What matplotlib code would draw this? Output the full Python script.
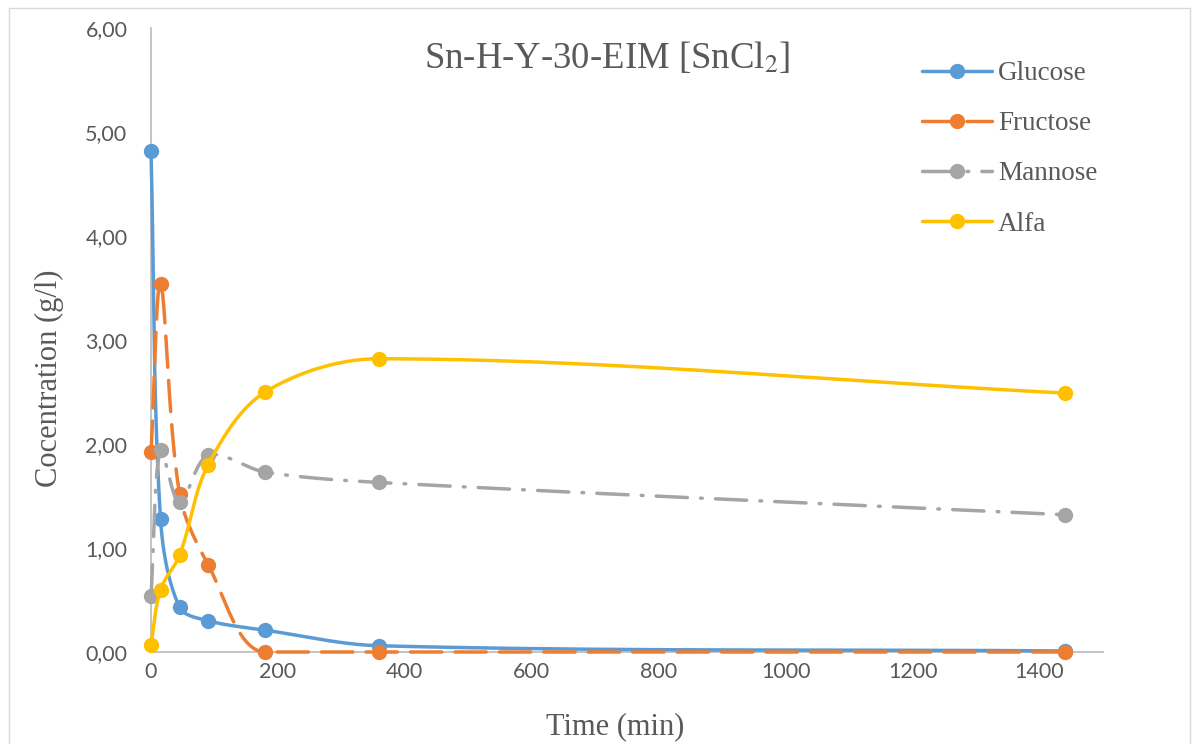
import matplotlib
matplotlib.use("Agg")
import matplotlib.pyplot as plt
import numpy as np
from matplotlib.lines import Line2D
from matplotlib.patches import Rectangle

# --- data ---
time_min = [0, 15, 45, 90, 180, 360, 1440]
glucose = [4.82, 1.28, 0.43, 0.30, 0.21, 0.06, 0.01]
fructose = [1.92, 3.54, 1.52, 0.84, 0.00, 0.00, 0.00]
mannose = [0.54, 1.94, 1.44, 1.89, 1.73, 1.63, 1.32]
alfa = [0.07, 0.60, 0.93, 1.80, 2.50, 2.82, 2.49]

series_names = ["Glucose", "Fructose", "Mannose", "Alfa"]
series_values = [glucose, fructose, mannose, alfa]
x_ticks = [0, 200, 400, 600, 800, 1000, 1200, 1400]
y_ticks = [0, 1, 2, 3, 4, 5, 6]

COLORS = ["#5B9BD5", "#ED7D31", "#A5A5A5", "#FFC000"]
DASHES = [None, (9, 3.8), (9, 3.8, 0.5, 3.8), None]
TEXT_GRAY = "#595959"
SERIF = ["Liberation Serif", "DejaVu Serif"]
SANS = ["Lato", "DejaVu Sans"]

W, H = 1194, 744


def smooth_curve(ax, x, y, n=60):
    """Excel-like smoothed line: cubic Bezier through the points, built in display space."""
    pts = ax.transData.transform(np.column_stack([x, y]))
    p = np.vstack([pts[0], pts, pts[-1]])
    # tangent at every real point (flat next to a flat stretch)
    tang = []
    for i in range(1, len(p) - 1):
        d = p[i + 1] - p[i - 1]
        inner = 1 < i < len(p) - 2
        if inner and ((p[i + 1][1] - p[i][1]) == 0 or (p[i][1] - p[i - 1][1]) == 0):
            d = np.array([d[0], 0.0])
        tang.append(d)
    out = []
    t = np.linspace(0, 1, n)[:, None]
    for k in range(len(pts) - 1):
        i = k + 1
        p0, p1, p2, p3 = p[i - 1], p[i], p[i + 1], p[i + 2]
        l01 = np.hypot(*(p1 - p0))
        l12 = np.hypot(*(p2 - p1))
        l23 = np.hypot(*(p3 - p2))
        c1 = p1 + tang[k] * l12 / (l01 + l12) / 3
        c2 = p2 - tang[k + 1] * l12 / (l12 + l23) / 3
        seg = ((1 - t) ** 3) * p1 + 3 * ((1 - t) ** 2) * t * c1 + 3 * (1 - t) * t ** 2 * c2 + t ** 3 * p2
        out.append(seg if k == 0 else seg[1:])
    curve = ax.transData.inverted().transform(np.vstack(out))
    return curve[:, 0], curve[:, 1]


fig = plt.figure(figsize=(W / 100, H / 100), dpi=100)
fig.patch.set_facecolor("white")
fig.patches.append(Rectangle((9 / W, -0.01), (1190 - 9) / W, 1 - 8 / H + 0.01,
                             transform=fig.transFigure, fill=False,
                             edgecolor="#D9D9D9", linewidth=1.0))

ax = fig.add_axes([151 / W, 92 / H, (1103 - 151) / W, (652 - 28) / H])
ax.set_xlim(0, 1500)
ax.set_ylim(0, 6)

handles = []
for name, vals, color, dash in zip(series_names, series_values, COLORS, DASHES):
    xs, ys = smooth_curve(ax, time_min, vals)
    line_kw = dict(color=color, linewidth=2.5, solid_capstyle="round")
    if dash is not None:
        line_kw.update(linestyle=(0, dash), dash_capstyle="round")
    ax.plot(xs, ys, clip_on=False, **line_kw)
    ax.plot(time_min, vals, "o", color=color, markersize=10, clip_on=False)
    handles.append(Line2D([], [], marker="o", markersize=10, **line_kw))

for side in ["top", "right"]:
    ax.spines[side].set_visible(False)
for side in ["left", "bottom"]:
    ax.spines[side].set_color("#BFBFBF")
    ax.spines[side].set_linewidth(1.3)
    ax.spines[side].set_zorder(0)

ax.set_xticks(x_ticks)
ax.set_yticks(y_ticks)
ax.set_yticklabels([f"{v:.2f}".replace(".", ",") for v in y_ticks])
ax.tick_params(length=0, colors=TEXT_GRAY, labelsize=15.5)
ax.tick_params(axis="y", pad=17)
ax.tick_params(axis="x", pad=7)
for lab in ax.get_xticklabels() + ax.get_yticklabels():
    lab.set_family(SANS)

fig.text(607 / W, 1 - 58 / H, r"Sn-H-Y-30-EIM [SnCl$_2$]", ha="center", va="center",
         fontsize=26.5, color=TEXT_GRAY, family=SERIF, math_fontfamily="stix")
fig.text(49 / W, 1 - 378 / H, "Cocentration (g/l)", rotation=90, ha="center", va="center",
         fontsize=22, color=TEXT_GRAY, family=SERIF)
fig.text(615 / W, 1 - 727 / H, "Time (min)", ha="center", va="center",
         fontsize=22, color=TEXT_GRAY, family=SERIF)

leg = ax.legend(handles, series_names, loc="upper left",
                bbox_to_anchor=(922 / W, 1 - 61 / H), bbox_transform=fig.transFigure,
                frameon=False, handlelength=2.6, handletextpad=0.2, labelspacing=0.93,
                prop={"family": SERIF, "size": 19.5}, borderaxespad=0, borderpad=0)
for txt in leg.get_texts():
    txt.set_color(TEXT_GRAY)

fig.savefig("out.png", dpi=100)
